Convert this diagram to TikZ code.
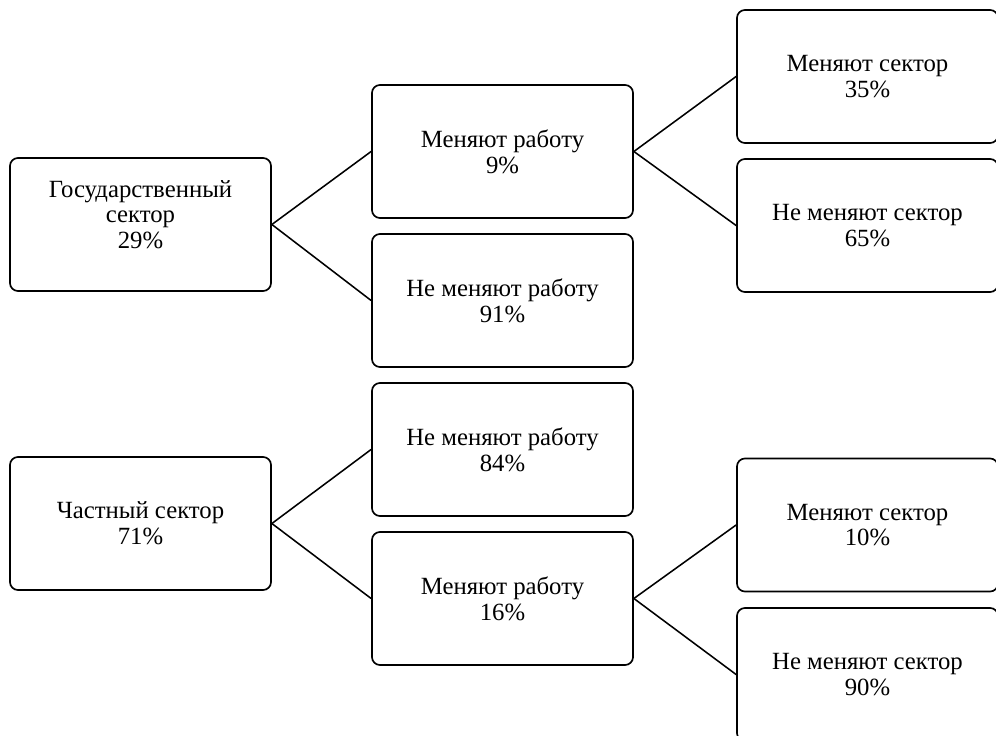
\documentclass[tikz,border=0pt]{standalone}
\usepackage{fontspec}
\setmainfont{Liberation Serif}
\newfontfamily\boxfont{Liberation Serif}
\tikzset{
  sectorbox/.style={draw, line width=1.2pt, rounded corners=0.2cm,
    minimum width=6.525cm, minimum height=3.325cm, inner sep=0pt,
    align=center, font=\boxfont\fontsize{17.6pt}{18.4pt}\selectfont}
}
\tikzset{
  branch/.style={line width=1.1pt}
}
\begin{document}
\begin{tikzpicture}[x=0.025cm, y=-0.025cm]
      \useasboundingbox (0,0) rectangle (996,736);
      \clip (0,0) rectangle (996,736);

      % sectors
      \node[sectorbox, text depth=0.5cm] (gos) at (140.5,224.5) {Государственный\\сектор\\29\%};
      \node[sectorbox] (chast) at (140.5,523.5) {Частный сектор\\71\%};

      % job change, state sector
      \node[sectorbox] (gmen) at (502.5,151.5) {Меняют работу\\9\%};
      \node[sectorbox] (gne) at (502.5,300.5) {Не меняют работу\\91\%};

      % job change, private sector
      \node[sectorbox] (chne) at (502.5,449.5) {Не меняют работу\\84\%};
      \node[sectorbox] (chmen) at (502.5,598.5) {Меняют работу\\16\%};

      % sector change (boxes run off the right edge)
      \node[sectorbox] (gsmen) at (867.5,76.5) {Меняют сектор\\35\%};
      \node[sectorbox] (gsne) at (867.5,225.5) {Не меняют сектор\\65\%};
      \node[sectorbox] (chsmen) at (867.5,525) {Меняют сектор\\10\%};
      \node[sectorbox] (chsne) at (867.5,674.5) {Не меняют сектор\\90\%};

      % branches
      \draw[branch] (gos.east) -- (gmen.west);
      \draw[branch] (gos.east) -- (gne.west);
      \draw[branch] (chast.east) -- (chne.west);
      \draw[branch] (chast.east) -- (chmen.west);
      \draw[branch] (gmen.east) -- (gsmen.west);
      \draw[branch] (gmen.east) -- (gsne.west);
      \draw[branch] (chmen.east) -- (chsmen.west);
      \draw[branch] (chmen.east) -- (chsne.west);
\end{tikzpicture}
\end{document}
